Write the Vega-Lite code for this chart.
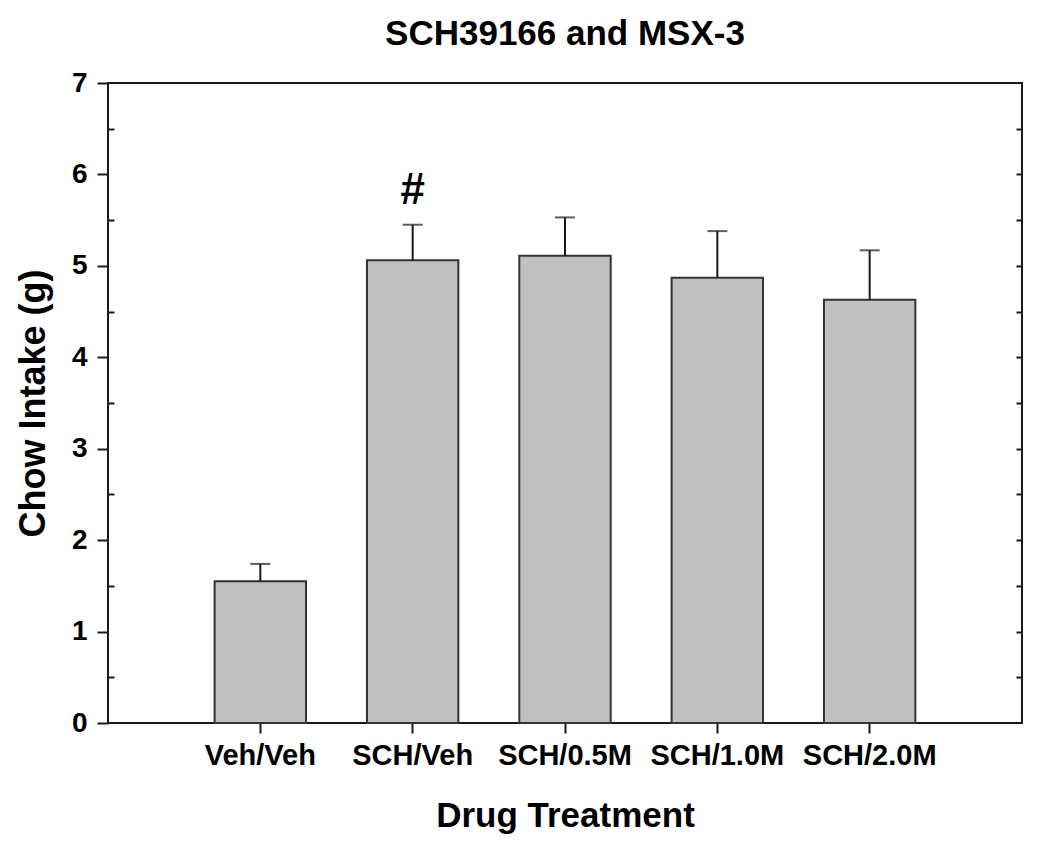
{
  "$schema": "https://vega.github.io/schema/vega-lite/v6.json",
  "width": 914,
  "height": 640,
  "autosize": {"type": "none"},
  "padding": {"left": 108, "top": 83, "right": 28, "bottom": 124},
  "background": "white",
  "config": {
    "font": "Liberation Sans",
    "view": {"stroke": "#1a1a1a", "strokeWidth": 2},
    "axis": {"labelFont": "Liberation Sans", "titleFont": "Liberation Sans", "labelColor": "black", "titleColor": "black", "tickColor": "#1a1a1a", "tickWidth": 2, "grid": false, "domain": false}
  },
  "title": {
    "text": "SCH39166 and MSX-3",
    "fontSize": 35,
    "fontWeight": "bold",
    "font": "Liberation Sans",
    "color": "black",
    "anchor": "middle",
    "baseline": "alphabetic",
    "offset": 0,
    "dy": 11
  },
  "data": {
    "values": [
      {"treatment": "Veh/Veh", "intake": 1.55, "upper": 1.74, "note": ""},
      {"treatment": "SCH/Veh", "intake": 5.06, "upper": 5.45, "note": "#"},
      {"treatment": "SCH/0.5M", "intake": 5.11, "upper": 5.53, "note": ""},
      {"treatment": "SCH/1.0M", "intake": 4.87, "upper": 5.38, "note": ""},
      {"treatment": "SCH/2.0M", "intake": 4.63, "upper": 5.17, "note": ""}
    ]
  },
  "encoding": {
    "x": {
      "field": "treatment",
      "type": "nominal",
      "sort": null,
      "scale": {"paddingInner": 0.4, "paddingOuter": 0.7},
      "axis": {"title": "Drug Treatment", "labelAngle": 0, "labelFontSize": 29, "labelFontWeight": "bold", "labelPadding": 8, "tickSize": 10, "titleFontSize": 35, "titleFontWeight": "bold", "titlePadding": 28}
    }
  },
  "layer": [
    {
      "mark": {"type": "bar", "fill": "#c0c0c0", "stroke": "#333333", "strokeWidth": 2},
      "encoding": {
        "y": {
          "field": "intake",
          "type": "quantitative",
          "scale": {"domain": [0, 7], "nice": false, "zero": true},
          "axis": {"orient": "left", "title": "Chow Intake (g)", "values": [0, 1, 2, 3, 4, 5, 6, 7], "tickSize": 11, "labelFontSize": 28, "labelFontWeight": "bold", "labelPadding": 10, "titleFontSize": 36, "titleFontWeight": "bold", "titlePadding": 19}
        }
      }
    },
    {
      "mark": {"type": "rule", "stroke": "#1a1a1a", "strokeWidth": 2},
      "encoding": {
        "y": {"field": "intake", "type": "quantitative", "axis": {"orient": "left", "title": null, "labels": false, "values": [0.5, 1.5, 2.5, 3.5, 4.5, 5.5, 6.5], "tickSize": -6}},
        "y2": {"field": "upper"}
      }
    },
    {
      "mark": {"type": "tick", "orient": "horizontal", "color": "#1a1a1a", "thickness": 2, "size": 20},
      "encoding": {
        "y": {"field": "upper", "type": "quantitative", "axis": {"orient": "right", "title": null, "labels": false, "values": [0.5, 1, 1.5, 2, 2.5, 3, 3.5, 4, 4.5, 5, 5.5, 6, 6.5], "tickSize": -6}}
      }
    },
    {
      "mark": {"type": "text", "fontSize": 44, "fontWeight": "bold", "font": "Liberation Sans", "baseline": "alphabetic", "dy": -21, "color": "black"},
      "encoding": {
        "y": {"field": "upper", "type": "quantitative", "axis": null},
        "text": {"field": "note"}
      }
    }
  ],
  "resolve": {"axis": {"y": "independent"}}
}
